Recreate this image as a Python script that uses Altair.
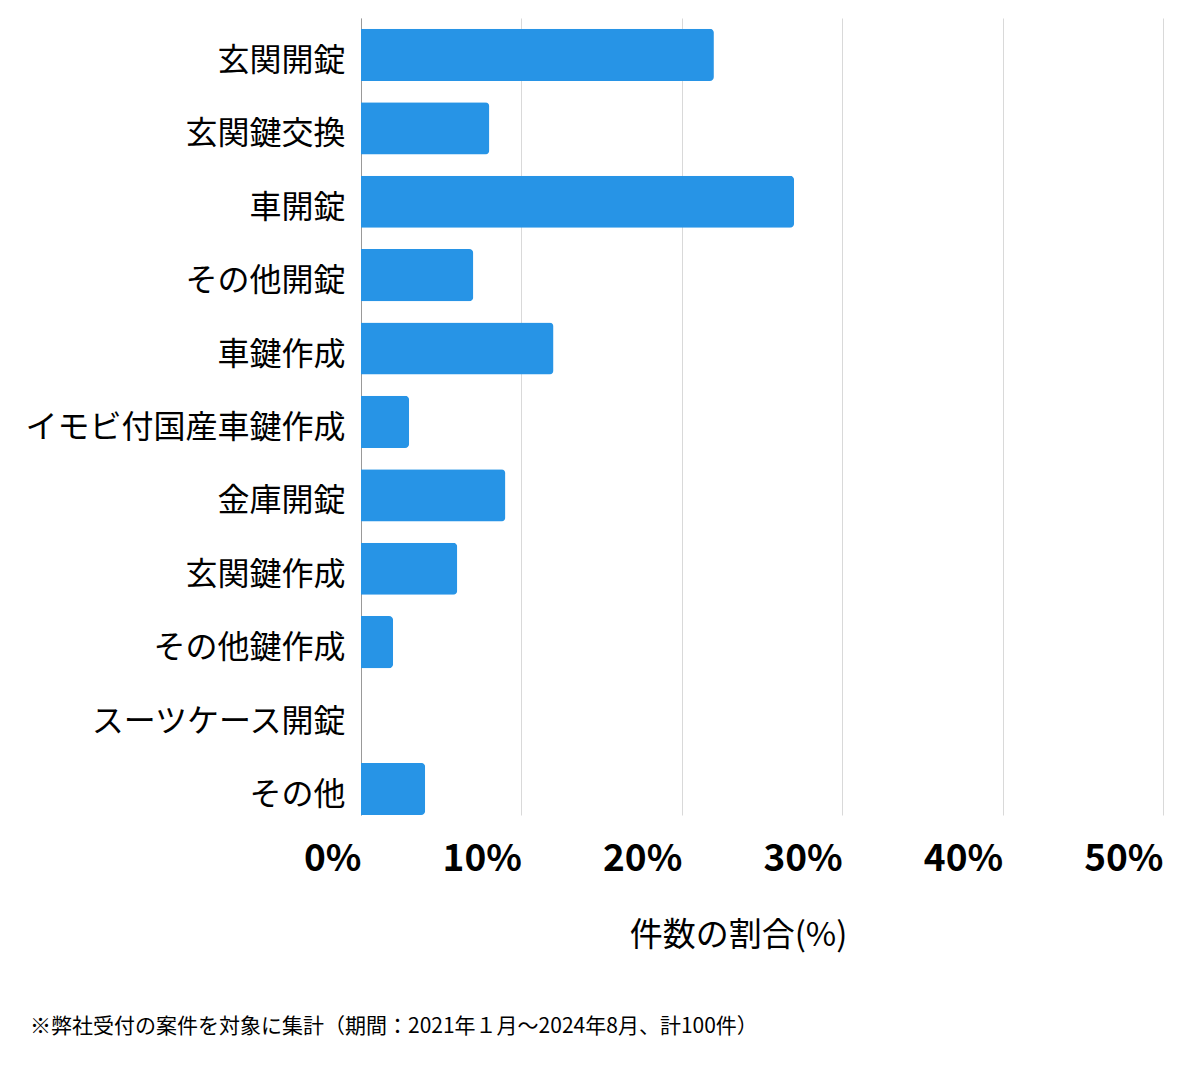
import altair as alt
import pandas as pd

categories = ["玄関開錠", "玄関鍵交換", "車開錠", "その他開錠", "車鍵作成",
              "イモビ付国産車鍵作成", "金庫開錠", "玄関鍵作成", "その他鍵作成",
              "スーツケース開錠", "その他"]
shares = [22, 8, 27, 7, 12, 3, 9, 6, 2, 0, 4]
x_ticks = [0, 10, 20, 30, 40, 50]
x_title = "件数の割合(%)"
footnote = "※弊社受付の案件を対象に集計（期間：2021年１月～2024年8月、計100件）"

df = pd.DataFrame({"category": categories, "share": shares})
FONT = "Noto Sans CJK JP"

bars = alt.Chart(df).mark_bar(color="#2794e6", cornerRadiusEnd=4).encode(
    x=alt.X("share:Q",
            scale=alt.Scale(domain=[0, 50]),
            axis=alt.Axis(values=x_ticks, title=x_title,
                          labelExpr="datum.value + '%'",
                          labelFont=FONT, labelFontSize=37, labelFontWeight="bold",
                          labelColor="#000", labelAlign="right", labelBaseline="middle",
                          labelPadding=44, ticks=False, domain=False,
                          grid=True, gridColor="#d9d9d9", gridWidth=1,
                          titleFont=FONT, titleFontSize=33, titleFontWeight="normal",
                          titleColor="#000", titleX=377, titleY=120,
                          titleAlign="center", titleBaseline="middle")),
    y=alt.Y("category:N", sort=categories,
            scale=alt.Scale(paddingInner=0.29, paddingOuter=0.074, align=1),
            axis=alt.Axis(title=None, labelFont=FONT, labelFontSize=32,
                          labelColor="#000", labelPadding=16, labelOffset=6,
                          ticks=False, domain=True, domainColor="#999",
                          domainWidth=1, labelLimit=500, grid=False)),
)

note = alt.Chart(pd.DataFrame({"t": [footnote]})).mark_text(
    font=FONT, fontSize=21, align="left", baseline="middle", color="#000"
).encode(x=alt.value(-331), y=alt.value(1009), text="t:N")

chart = alt.layer(bars, note).properties(
    width=802, height=797,
    autosize=alt.AutoSizeParams(type="none"),
    padding={"left": 353, "top": 10, "right": 29, "bottom": 230},
).configure_view(stroke=None)

chart.save("out.html", embed_options={"renderer": "svg", "actions": False})
